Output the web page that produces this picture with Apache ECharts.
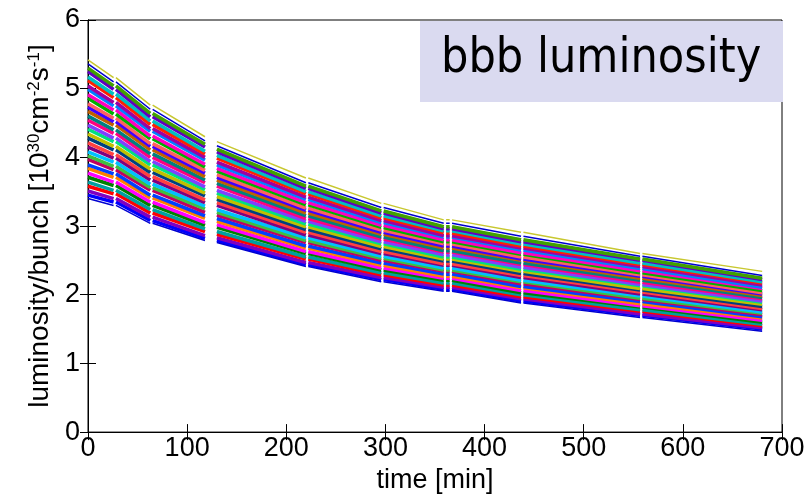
<!DOCTYPE html>
<html>
<head>
<meta charset="utf-8">
<script src="https://cdn.jsdelivr.net/npm/echarts@6/dist/echarts.min.js"></script>
<style>
html, body { margin: 0; padding: 0; background: #fff; }
#chart { width: 808px; height: 499px; }
</style>
</head>
<body>
<div id="chart"></div>
<script>
const times = [0, 27, 64, 118, 130, 221, 297, 363, 438, 558, 680];
// thin white breaks in the data (offsets around a sample time)
const breaks = { 27: [0], 64: [0], 221: [0], 297: [0], 363: [-3, 3], 438: [0], 558: [0] };
// the long break between 118 and 130 min
const longBreak = [118, 130];

// luminosity/bunch, bottom of the band upwards
const bunches = [
    [3.45, 3.35, 3.08, 2.82, 2.79, 2.44, 2.22, 2.08, 1.91, 1.70, 1.50],
    [3.51, 3.40, 3.13, 2.86, 2.83, 2.47, 2.25, 2.11, 1.94, 1.72, 1.52],
    [3.58, 3.47, 3.19, 2.92, 2.88, 2.52, 2.29, 2.14, 1.97, 1.76, 1.55],
    [3.64, 3.52, 3.24, 2.96, 2.92, 2.55, 2.32, 2.17, 2.00, 1.78, 1.57],
    [3.71, 3.59, 3.30, 3.01, 2.98, 2.60, 2.36, 2.21, 2.03, 1.82, 1.60],
    [3.77, 3.64, 3.35, 3.05, 3.02, 2.63, 2.39, 2.24, 2.06, 1.84, 1.63],
    [3.84, 3.71, 3.41, 3.11, 3.07, 2.68, 2.43, 2.27, 2.10, 1.87, 1.66],
    [3.89, 3.76, 3.45, 3.15, 3.11, 2.71, 2.46, 2.30, 2.12, 1.90, 1.68],
    [3.97, 3.82, 3.52, 3.20, 3.16, 2.76, 2.50, 2.34, 2.16, 1.93, 1.71],
    [4.02, 3.87, 3.56, 3.25, 3.20, 2.79, 2.53, 2.36, 2.19, 1.95, 1.73],
    [4.08, 3.93, 3.61, 3.29, 3.24, 2.83, 2.56, 2.39, 2.21, 1.98, 1.75],
    [4.15, 3.99, 3.67, 3.34, 3.30, 2.87, 2.60, 2.43, 2.25, 2.01, 1.78],
    [4.21, 4.04, 3.72, 3.38, 3.34, 2.91, 2.63, 2.45, 2.28, 2.04, 1.80],
    [4.28, 4.11, 3.78, 3.44, 3.39, 2.95, 2.67, 2.49, 2.31, 2.07, 1.83],
    [4.34, 4.16, 3.83, 3.48, 3.43, 2.99, 2.70, 2.52, 2.34, 2.09, 1.86],
    [4.41, 4.23, 3.89, 3.53, 3.48, 3.03, 2.74, 2.55, 2.37, 2.13, 1.89],
    [4.47, 4.28, 3.94, 3.57, 3.52, 3.07, 2.77, 2.58, 2.40, 2.15, 1.91],
    [4.54, 4.35, 4.00, 3.63, 3.58, 3.11, 2.81, 2.62, 2.44, 2.18, 1.94],
    [4.60, 4.40, 4.05, 3.67, 3.62, 3.15, 2.84, 2.64, 2.46, 2.21, 1.96],
    [4.67, 4.47, 4.11, 3.72, 3.67, 3.19, 2.88, 2.68, 2.50, 2.24, 1.99],
    [4.73, 4.52, 4.16, 3.77, 3.71, 3.23, 2.91, 2.71, 2.52, 2.27, 2.01],
    [4.78, 4.57, 4.20, 3.81, 3.75, 3.26, 2.94, 2.74, 2.55, 2.29, 2.03],
    [4.86, 4.63, 4.27, 3.86, 3.80, 3.31, 2.98, 2.77, 2.59, 2.32, 2.06],
    [4.91, 4.69, 4.31, 3.90, 3.84, 3.34, 3.01, 2.80, 2.61, 2.35, 2.09],
    [4.99, 4.75, 4.38, 3.96, 3.89, 3.39, 3.05, 2.84, 2.65, 2.38, 2.11],
    [5.04, 4.80, 4.42, 4.00, 3.93, 3.42, 3.08, 2.86, 2.68, 2.41, 2.14],
    [5.12, 4.87, 4.48, 4.05, 3.99, 3.47, 3.12, 2.90, 2.71, 2.44, 2.17],
    [5.17, 4.92, 4.53, 4.09, 4.03, 3.50, 3.15, 2.93, 2.74, 2.46, 2.19],
    [5.25, 4.99, 4.59, 4.15, 4.08, 3.55, 3.19, 2.96, 2.77, 2.50, 2.22],
    [5.30, 5.04, 4.64, 4.19, 4.12, 3.58, 3.22, 2.99, 2.80, 2.52, 2.24]
];
// the few bunches sitting outside the dense band
const lowBlue = [3.40, 3.30, 3.04, 2.79, 2.76, 2.41, 2.19, 2.05, 1.88, 1.67, 1.47];
const highBlue = [5.36, 5.10, 4.70, 4.24, 4.17, 3.63, 3.27, 3.04, 2.85, 2.56, 2.28];
const highYellow = [5.42, 5.16, 4.76, 4.30, 4.23, 3.70, 3.33, 3.09, 2.91, 2.60, 2.34];

const xTicks = [0, 700, 100];
const yTicks = [0, 6, 1];

const palette = ['#0000ff', '#8000c0', '#ff0000', '#00a0a0', '#008000', '#ff00ff', '#ff8000',
    '#0040ff', '#c00060', '#40c040', '#00c0ff', '#800080', '#ff4040', '#004080', '#c0c000',
    '#00e080', '#8040ff', '#ff0080', '#008080', '#c06000', '#4000ff', '#ff6060', '#00b000',
    '#ff00c0', '#0080ff', '#a000a0', '#ff2000', '#00c0c0', '#6000c0', '#40a000'];

function buildLine(vals) {
    var out = [];
    times.forEach(function (t, i) {
        var v = vals[i];
        if (breaks[t]) {
            breaks[t].forEach(function (o) {
                out.push([t + o - 1.2, v]);
                out.push([t + o, null]);
                out.push([t + o + 1.2, v]);
            });
        } else {
            out.push([t, v]);
        }
        if (t === longBreak[0]) out.push([(longBreak[0] + longBreak[1]) / 2, null]);
    });
    return out;
}

function lineSeries(vals, color, width) {
    return {
        type: 'line',
        data: buildLine(vals),
        showSymbol: false,
        silent: true,
        connectNulls: false,
        lineStyle: { color: color, width: width },
        xAxisIndex: 0,
        yAxisIndex: 0
    };
}

var series = bunches.map(function (b, i) {
    return lineSeries(b, palette[i % palette.length], 3.5);
});
series.push(lineSeries(lowBlue, '#0000d0', 1.5));
series.push(lineSeries(highBlue, '#0000d0', 1.5));
series.push(lineSeries(highYellow, '#c8c830', 1.5));

var fam = 'Liberation Sans, Arial, sans-serif';
var labelFont = { color: '#000', fontSize: 27, fontFamily: fam };

var chart = echarts.init(document.getElementById('chart'));
chart.setOption({
    animation: false,
    backgroundColor: '#fff',
    grid: { left: 88, right: 26, top: 20, bottom: 66, show: true, borderColor: '#000', borderWidth: 1 },
    xAxis: [{
        type: 'value', min: xTicks[0], max: xTicks[1], interval: xTicks[2],
        name: 'time [min]', nameLocation: 'middle', nameGap: 34,
        nameTextStyle: labelFont,
        axisLine: { show: true, lineStyle: { color: '#000' } },
        axisTick: { show: true, inside: true, length: 8, lineStyle: { color: '#000' } },
        axisLabel: Object.assign({ margin: 3 }, labelFont),
        splitLine: { show: false }
    }, {
        type: 'value', position: 'top', min: xTicks[0], max: xTicks[1], interval: xTicks[2],
        axisLine: { show: true, lineStyle: { color: '#000' } },
        axisTick: { show: true, inside: true, length: 8, lineStyle: { color: '#000' } },
        axisLabel: { show: false },
        splitLine: { show: false }
    }],
    yAxis: [{
        type: 'value', min: yTicks[0], max: yTicks[1], interval: yTicks[2],
        name: '{a|luminosity/bunch [10}{s|30}{a|cm}{s|-2}{a|s}{s|-1}{a|]}',
        nameLocation: 'middle', nameGap: 31,
        nameTextStyle: {
            rich: {
                a: { fontSize: 28, fontFamily: fam, color: '#000', lineHeight: 28, padding: [10, 0, 0, 0], verticalAlign: 'bottom' },
                s: { fontSize: 17, fontFamily: fam, color: '#000', lineHeight: 17, verticalAlign: 'top' }
            }
        },
        axisLine: { show: true, lineStyle: { color: '#000' } },
        axisTick: { show: true, inside: true, length: 8, lineStyle: { color: '#000' } },
        axisLabel: Object.assign({ margin: 8 }, labelFont),
        splitLine: { show: false }
    }, {
        type: 'value', position: 'right', min: yTicks[0], max: yTicks[1], interval: yTicks[2],
        axisLine: { show: true, lineStyle: { color: '#000' } },
        axisTick: { show: true, inside: true, length: 8, lineStyle: { color: '#000' } },
        axisLabel: { show: false },
        splitLine: { show: false }
    }],
    graphic: [{
        type: 'rect', left: 420, top: 21, z: 100,
        shape: { width: 363, height: 81 },
        style: { fill: '#dadaf0' }
    }, {
        type: 'text', left: 441, top: 36, z: 101,
        style: { text: 'bbb luminosity', fill: '#000', font: '48px "DejaVu Sans Condensed", "DejaVu Sans", sans-serif' }
    }],
    series: series
});
</script>
</body>
</html>
